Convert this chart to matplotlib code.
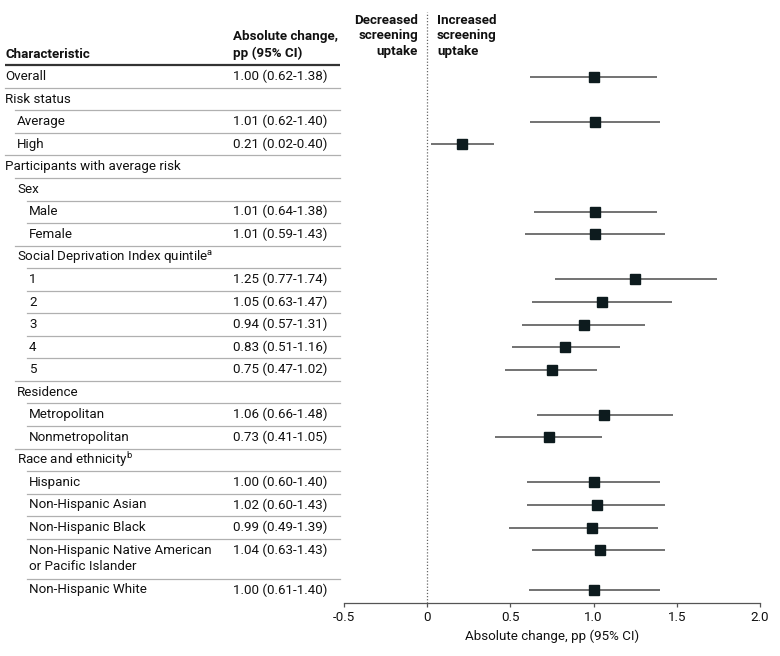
import matplotlib
matplotlib.use("Agg")
import matplotlib.pyplot as plt
import numpy as np

plt.rcParams['font.family'] = ['Roboto', 'DejaVu Sans']
plt.rcParams['mathtext.default'] = 'regular'

# table rows: label, indent level, estimate, lower, upper, row height (in rows)
labels = ["Overall", "Risk status", "Average", "High",
          "Participants with average risk", "Sex", "Male", "Female",
          "Social Deprivation Index quintile$^{a}$", "1", "2", "3", "4", "5",
          "Residence", "Metropolitan", "Nonmetropolitan",
          "Race and ethnicity$^{b}$", "Hispanic", "Non-Hispanic Asian",
          "Non-Hispanic Black",
          "Non-Hispanic Native American\nor Pacific Islander",
          "Non-Hispanic White"]
levels = [0, 0, 1, 1, 0, 1, 2, 2, 1, 2, 2, 2, 2, 2, 1, 2, 2, 1, 2, 2, 2, 2, 2]
est = [1.00, None, 1.01, 0.21, None, None, 1.01, 1.01, None, 1.25, 1.05, 0.94,
       0.83, 0.75, None, 1.06, 0.73, None, 1.00, 1.02, 0.99, 1.04, 1.00]
lo = [0.62, None, 0.62, 0.02, None, None, 0.64, 0.59, None, 0.77, 0.63, 0.57,
      0.51, 0.47, None, 0.66, 0.41, None, 0.60, 0.60, 0.49, 0.63, 0.61]
hi = [1.38, None, 1.40, 0.40, None, None, 1.38, 1.43, None, 1.74, 1.47, 1.31,
      1.16, 1.02, None, 1.48, 1.05, None, 1.40, 1.43, 1.39, 1.43, 1.40]
heights = [1] * 21 + [1.77, 1]

W, H = 780, 656
fig = plt.figure(figsize=(W / 100, H / 100), dpi=100)

# table axes in pixel coordinates
tab = fig.add_axes([0, 0, 1, 1])
tab.set_xlim(0, W)
tab.set_ylim(H, 0)
tab.axis('off')

step = 22.55
y0 = 76.5
ys = y0 + step * np.concatenate([[0], np.cumsum(heights[:-1])])

indent_x = [5, 17, 29]
line_x = [5, 15, 27]
fs = 9.6
tc = '#111111'

tab.text(5, 54, "Characteristic", fontsize=fs, fontweight='bold', va='center', color=tc)
tab.text(233, 45, "Absolute change,\npp (95% CI)", fontsize=fs, fontweight='bold',
         va='center', linespacing=1.3, color=tc)
tab.plot([5, 340], [65, 65], color='#333333', lw=1.6, solid_capstyle='butt')

for i, lab in enumerate(labels):
    y = ys[i]
    nl = lab.count("\n")
    tab.text(indent_x[levels[i]], y + nl * 8.5, lab, fontsize=fs, va='center',
             linespacing=1.25, color=tc)
    if est[i] is not None:
        tab.text(233, y, "%.2f (%.2f-%.2f)" % (est[i], lo[i], hi[i]),
                 fontsize=fs, va='center', color=tc)
    if i < len(labels) - 1:
        ysep = y + heights[i] * step - step / 2
        tab.plot([line_x[levels[i + 1]], 340], [ysep, ysep], color='#b0b0b0', lw=0.9)

tab.text(418, 36, "Decreased\nscreening\nuptake", fontsize=fs, fontweight='bold',
         ha='right', va='center', linespacing=1.3, color=tc)
tab.text(437, 36, "Increased\nscreening\nuptake", fontsize=fs, fontweight='bold',
         ha='left', va='center', linespacing=1.3, color=tc)

# forest axes, y in pixel coordinates
ax = fig.add_axes([344 / W, (H - 603) / H, (760 - 344) / W, (603 - 12) / H])
ax.patch.set_alpha(0)
ax.set_xlim(-0.5, 2.0)
ax.set_ylim(603, 12)
ax.axvline(0, color='#666666', lw=0.9, ls=(0, (1, 1.5)))
for i in range(len(labels)):
    if est[i] is None:
        continue
    ax.plot([lo[i], hi[i]], [ys[i], ys[i]], color='#5a5a5a', lw=1.2,
            solid_capstyle='butt')
    ax.plot(est[i], ys[i], marker='s', ms=7, color='#0d1b1e', mec='#0d1b1e')

for s in ['top', 'right', 'left']:
    ax.spines[s].set_visible(False)
ax.spines['bottom'].set_color('#555555')
ax.spines['bottom'].set_linewidth(0.9)
ax.set_yticks([])
ax.set_xticks([-0.5, 0, 0.5, 1.0, 1.5, 2.0])
ax.set_xticklabels(["-0.5", "0", "0.5", "1.0", "1.5", "2.0"])
ax.tick_params(axis='x', length=3, width=0.9, color='#555555', labelsize=fs,
               pad=3, labelcolor=tc)
ax.set_xlabel("Absolute change, pp (95% CI)", fontsize=fs, labelpad=4, color=tc)

fig.savefig("out.png", dpi=100)
